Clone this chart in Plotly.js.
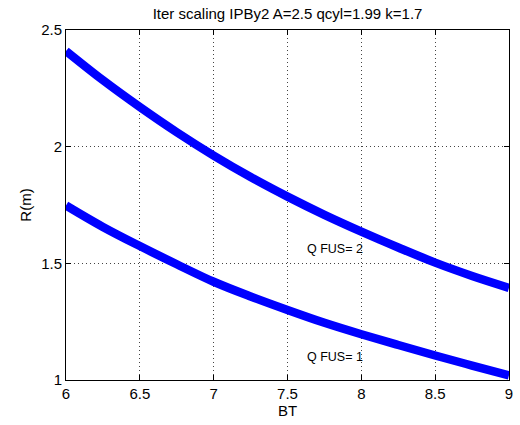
<!DOCTYPE html>
<html>
<head>
<meta charset="utf-8">
<script src="https://cdn.plot.ly/plotly-3.0.1.min.js"></script>
<style>html,body{margin:0;padding:0;background:#fff;}#chart{width:520px;height:425px;}</style>
</head>
<body>
<div id="chart"></div>
<script>
const bt = [6, 6.25, 6.5, 6.75, 7, 7.25, 7.5, 7.75, 8, 8.25, 8.5, 8.75, 9];
const rQfus2 = [2.41, 2.285, 2.17, 2.062, 1.962, 1.87, 1.786, 1.708, 1.636, 1.568, 1.503, 1.446, 1.395];
const rQfus1 = [1.748, 1.656, 1.574, 1.496, 1.421, 1.358, 1.30, 1.245, 1.196, 1.15, 1.105, 1.062, 1.02];
const labels = ["Q FUS= 2", "Q FUS= 1"];
const labelX = [7.62, 7.62];
const labelY = [1.561, 1.098];
const xTicks = [6, 6.5, 7, 7.5, 8, 8.5, 9];
const yTicks = [1, 1.5, 2, 2.5];

const font = "Liberation Sans, Arial, Helvetica, sans-serif";
const traces = [
  {x: bt, y: rQfus2, mode: "lines", line: {color: "#0000ff", width: 8.5, shape: "spline"}, hoverinfo: "skip"},
  {x: bt, y: rQfus1, mode: "lines", line: {color: "#0000ff", width: 8.5, shape: "spline"}, hoverinfo: "skip"}
];
const axisCommon = {
  showline: true, mirror: "ticks", linecolor: "#000", linewidth: 1,
  ticks: "inside", ticklen: 5, tickcolor: "#000",
  showgrid: true, gridcolor: "#444", griddash: "1px,3px", gridwidth: 1,
  zeroline: false, tickfont: {family: font, size: 15, color: "#000"}
};
const layout = {
  width: 520, height: 425,
  margin: {l: 66, r: 11, t: 30, b: 45},
  paper_bgcolor: "#fff", plot_bgcolor: "#fff",
  showlegend: false,
  title: {text: "Iter scaling IPBy2 A=2.5 qcyl=1.99 k=1.7", font: {family: font, size: 15, color: "#000"}, x: 0.553, xanchor: "center", y: 0.968, yanchor: "middle"},
  xaxis: Object.assign({}, axisCommon, {range: [6, 9], tickvals: xTicks, ticktext: xTicks.map(String),
    title: {text: "BT", font: {family: font, size: 15, color: "#000"}, standoff: 3}}),
  yaxis: Object.assign({}, axisCommon, {range: [1, 2.5], tickvals: yTicks, ticktext: yTicks.map(String),
    title: {text: "R(m)", font: {family: font, size: 15, color: "#000"}, standoff: 5}}),
  annotations: labels.map((t, i) => ({x: labelX[i], y: labelY[i], xref: "x", yref: "y", text: t, showarrow: false,
    xanchor: "left", yanchor: "middle", font: {family: font, size: 12.5, color: "#000"}}))
};
Plotly.newPlot("chart", traces, layout, {staticPlot: true, displayModeBar: false});
</script>
</body>
</html>
